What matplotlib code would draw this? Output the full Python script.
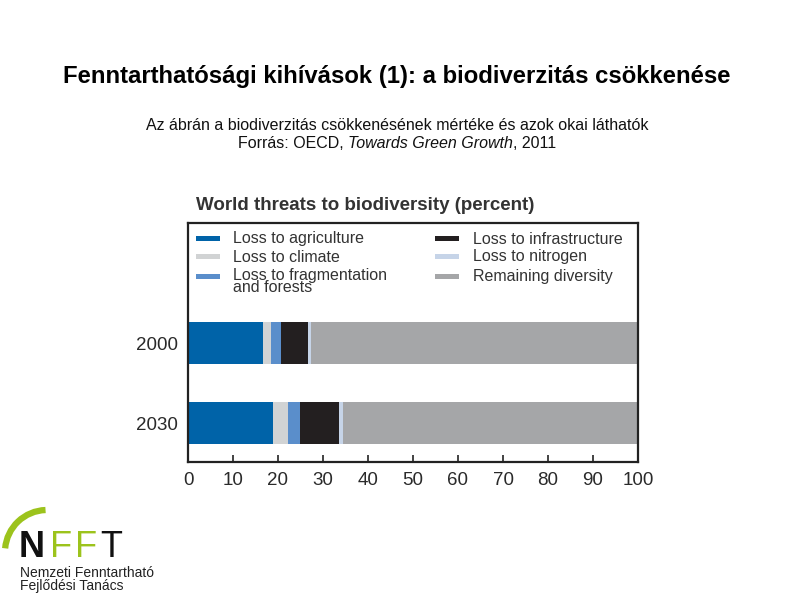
import matplotlib
matplotlib.use("Agg")
import matplotlib.pyplot as plt
from matplotlib.patches import Rectangle, Arc
from matplotlib.offsetbox import TextArea, HPacker, AnnotationBbox

plt.rcParams['font.family'] = ['Liberation Sans', 'DejaVu Sans']

years = ["2000", "2030"]
series = ["Loss to agriculture", "Loss to climate",
          "Loss to fragmentation\nand forests", "Loss to infrastructure",
          "Loss to nitrogen", "Remaining diversity"]
values_2000 = [16.7, 1.7, 2.3, 6.0, 0.6, 72.7]
values_2030 = [18.9, 3.3, 2.7, 8.6, 0.9, 65.6]
colors = ["#0063a8", "#d1d3d4", "#5a8ecb", "#231f20", "#c6d4e8", "#a5a6a8"]
xticks = [0, 10, 20, 30, 40, 50, 60, 70, 80, 90, 100]

W, H = 794, 595
fig = plt.figure(figsize=(W / 100, H / 100), dpi=100)

# main titles
fig.text(397 / W, 1 - 76 / H, "Fenntarthatósági kihívások (1): a biodiverzitás csökkenése",
         ha="center", va="center", fontsize=17.2, fontweight="bold", color="black")
fig.text(397 / W, 1 - 125 / H,
         "Az ábrán a biodiverzitás csökkenésének mértéke és azok okai láthatók",
         ha="center", va="center", fontsize=11.5, color="#111111")
parts = [TextArea("Forrás: OECD, ", textprops=dict(fontsize=11.5, color="#111111")),
         TextArea("Towards Green Growth", textprops=dict(fontsize=11.5, color="#111111", style="italic")),
         TextArea(", 2011", textprops=dict(fontsize=11.5, color="#111111"))]
pack = HPacker(children=parts, pad=0, sep=0, align="baseline")
ab = AnnotationBbox(pack, (397 / W, 1 - 143 / H), xycoords="figure fraction",
                    frameon=False, box_alignment=(0.5, 0.5))
fig.add_artist(ab)

# chart axes
x0, x1, ytop, ybot = 188, 638, 223, 462
ax = fig.add_axes([x0 / W, 1 - ybot / H, (x1 - x0) / W, (ybot - ytop) / H])
ypos = [0, 1]
bar_h = 0.525
for yi, vals in zip(ypos, [values_2000, values_2030]):
    left = 0
    for v, c in zip(vals, colors):
        ax.barh(yi, v, left=left, height=bar_h, color=c, edgecolor="none")
        left += v
ax.set_xlim(0, 100)
ax.set_ylim(1.4875, -1.5)
ax.set_xticks(xticks)
ax.set_xticklabels([str(t) for t in xticks], fontsize=13.5, color="#2a2a2a")
ax.set_yticks(ypos)
ax.set_yticklabels(years, fontsize=13.5, color="#2a2a2a")
ax.tick_params(axis="x", direction="in", length=5, width=1.2, color="#222222", pad=7)
ax.tick_params(axis="y", length=0, pad=7)
for s in ax.spines.values():
    s.set_linewidth(1.6)
    s.set_color("#222222")

# chart title
fig.text(196 / W, 1 - 205 / H, "World threats to biodiversity (percent)",
         ha="left", va="center", fontsize=13.5, fontweight="bold", color="#333333")

# legend (manual, inside top of axes)
def ax_xy(px, py):
    return (px - x0) / (x1 - x0), (ybot - py) / (ybot - ytop)

hx = [196, 435]
tx = [233, 473]
ry = [238, 256, 276]
for i, (lab, c) in enumerate(zip(series, colors)):
    col, row = i // 3, i % 3
    hx0, hy0 = ax_xy(hx[col], ry[row] + 2.5)
    hx1, hy1 = ax_xy(hx[col] + 24, ry[row] - 2.5)
    ax.add_patch(Rectangle((hx0, hy0), hx1 - hx0, hy1 - hy0, transform=ax.transAxes,
                           facecolor=c, edgecolor="none", clip_on=False))
    if "\n" in lab:
        txp, typ = ax_xy(tx[col], 268)
        va = "top"
    else:
        txp, typ = ax_xy(tx[col], ry[row] + 1)
        va = "center"
    ax.text(txp, typ, lab, transform=ax.transAxes, ha="left", va=va,
            fontsize=11.5, color="#333333", linespacing=0.72)

# logo
lax = fig.add_axes([0, 0, 170 / W, 95 / H])
lax.set_xlim(0, 170)
lax.set_ylim(95, 0)
lax.axis("off")
green = "#9cc31c"
lax.add_patch(Arc((47, 52), 84, 84, theta1=185, theta2=268, color=green, lw=4.5))
lax.text(19, 65, "N", fontsize=26, fontweight="bold", color="#111111", va="bottom", ha="left")
lax.text(50, 65, "F", fontsize=26, color=green, va="bottom", ha="left")
lax.text(75, 65, "F", fontsize=26, color=green, va="bottom", ha="left")
lax.text(100, 65, "T", fontsize=26, color="#111111", va="bottom", ha="left")
lax.text(20, 66, "Nemzeti Fenntartható", fontsize=10, color="#222222", va="top", ha="left")
lax.text(20, 79, "Fejlődési Tanács", fontsize=10, color="#222222", va="top", ha="left")

fig.savefig("out.png", dpi=100)
